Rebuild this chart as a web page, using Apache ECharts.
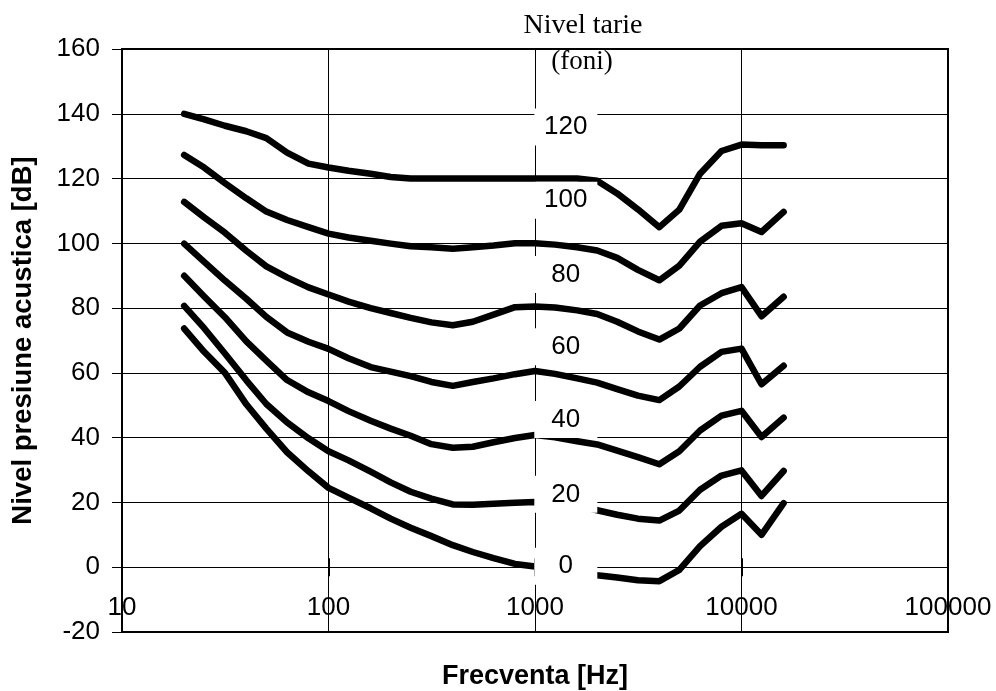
<!DOCTYPE html>
<html>
<head>
<meta charset="utf-8">
<script src="https://cdn.jsdelivr.net/npm/echarts@6/dist/echarts.min.js"></script>
<style>html,body{margin:0;padding:0;background:#fff}#c{width:996px;height:691px}</style>
</head>
<body>
<div id="c"></div>
<script>
// Frequencies (Hz)
const freqs = [20,25,31.5,40,50,63,80,100,125,160,200,250,315,400,500,630,800,1000,1250,1600,2000,2500,3150,4000,5000,6300,8000,10000,12500,16000];
// Sound pressure level (dB) for each loudness contour (phon)
const phon0   = [73.7,66.5,60,50.3,42.8,35.5,29.6,24.5,21.5,18.2,15,12.2,9.6,6.8,4.7,2.8,1.0,0.2,-0.5,-1.5,-2.5,-3.2,-4,-4.3,-0.8,6.5,12.5,16.5,10,19.8];
const phon20  = [80.7,73.8,66,57.7,50.4,44.7,39.8,35.8,33,29.5,26.2,23.3,21.2,19.4,19.3,19.6,19.9,20.1,20,19,17.6,16.2,15,14.4,17.5,23.9,28.3,29.9,22,29.7];
const phon40  = [90,83.6,77.2,69.7,63.8,57.8,54,51.3,48.2,45.2,42.8,40.6,38,36.9,37.2,38.6,39.9,40.8,40.1,38.9,37.9,36,34,31.8,35.8,42.2,46.8,48.3,40.2,46.2];
const phon60  = [99.9,94.3,88.5,82.9,77.3,72.5,69.6,67.4,64.5,61.8,60.4,59,57.2,56,57.2,58.3,59.6,60.6,59.7,58.3,57,55,53,51.6,55.8,61.9,66.5,67.5,56.5,62.2];
const phon80  = [112.8,108,103.3,97.7,92.9,89.5,86.4,84.2,82,80,78.5,77,75.6,74.7,75.8,78,80.3,80.5,80.2,79.3,78.2,75.8,72.8,70.3,73.7,80.8,84.6,86.5,77.5,83.5];
const phon100 = [127.3,123.4,118.6,113.9,109.8,107.2,105,103,101.8,100.8,99.9,99.1,98.8,98.3,98.8,99.3,100,100,99.6,98.8,97.8,95.5,91.8,88.6,93.1,100.5,105.4,106.2,103.5,109.7];
const phon120 = [140,138.3,136.3,134.6,132.5,128,124.6,123.4,122.4,121.5,120.5,120,120,120,120,120,120,120,120,120,119.3,115.4,110.5,105,110.4,121.5,128.5,130.5,130.3,130.3];
const curves = [phon0, phon20, phon40, phon60, phon80, phon100, phon120];
// Contour labels (phon) and where they sit on the chart (data coordinates)
const labelTexts = ['0','20','40','60','80','100','120'];
const labelLevels = [0.3,22.5,45.6,68.1,90.4,113.3,135.9];
const labelFreq = 1410;
// Axis ticks
const yTicks = {min:-20, max:160, step:20};
const xTicks = {min:10, max:100000};

const FONT = '"Liberation Sans", Arial, sans-serif';
const SERIF = '"Liberation Serif", "Times New Roman", serif';

const W = 996, H = 691;
const grid = {left:122, top:49, right:48, bottom:59};
const plotH = H - grid.top - grid.bottom;
// x axis is drawn along the 0 dB line: shift it up from the bottom edge
const zeroOffset = -plotH * (0 - yTicks.min) / (yTicks.max - yTicks.min);

const chart = echarts.init(document.getElementById('c'), null, {renderer:'canvas'});

const series = curves.map((vals, i) => ({
  type:'line', name: labelTexts[i] + ' foni',
  xAxisIndex:0, yAxisIndex:0,
  data: freqs.map((f, k) => [f, vals[k]]),
  showSymbol:false, symbol:'none', smooth:false, silent:true,
  lineStyle:{color:'#000', width:6.5, cap:'round', join:'round'},
  z:3
}));
series.push({
  type:'scatter', xAxisIndex:0, yAxisIndex:0, silent:true,
  symbol:'rect', symbolSize:[63,37],
  itemStyle:{color:'#fff', opacity:1},
  data: labelLevels.map((v, i) => ({value:[labelFreq, v], name:labelTexts[i]})),
  label:{show:true, position:'inside', formatter:p => p.name, color:'#000', fontSize:26, fontFamily:FONT},
  z:5
});

const axisTextStyle = {color:'#000', fontSize:26, fontFamily:FONT};

chart.setOption({
  animation:false,
  backgroundColor:'#fff',
  grid:{...grid, show:true, borderColor:'#000', borderWidth:2,
        backgroundColor:'transparent', containLabel:false, outerBoundsMode:'none'},
  xAxis:[{
    type:'log', logBase:10, min:xTicks.min, max:xTicks.max, position:'bottom', offset:zeroOffset,
    axisLine:{show:true, onZero:false, lineStyle:{color:'#000', width:1}},
    axisTick:{show:true, inside:false, length:9, lineStyle:{color:'#000', width:2}},
    minorTick:{show:false},
    axisLabel:{...axisTextStyle, margin:28, formatter:v => String(Math.round(v))},
    splitLine:{show:true, lineStyle:{color:'#000', width:1}},
    name:'Frecventa [Hz]', nameLocation:'middle', nameGap:96,
    nameTextStyle:{color:'#000', fontSize:27, fontWeight:'bold', fontFamily:FONT}
  },{
    type:'log', logBase:10, min:xTicks.min, max:xTicks.max, position:'bottom', offset:zeroOffset,
    axisLine:{show:false, onZero:false},
    axisTick:{show:true, inside:true, length:9, lineStyle:{color:'#000', width:2}},
    axisLabel:{show:false}, splitLine:{show:false}
  }],
  yAxis:[{
    type:'value', min:yTicks.min, max:yTicks.max, interval:yTicks.step,
    axisLine:{show:true, onZero:false, lineStyle:{color:'#000', width:2}},
    axisTick:{show:true, inside:false, length:10, lineStyle:{color:'#000', width:1}},
    axisLabel:{...axisTextStyle, margin:22},
    splitLine:{show:true, lineStyle:{color:'#000', width:1}},
    name:'Nivel presiune acustica [dB]', nameLocation:'middle', nameGap:85,
    nameTextStyle:{color:'#000', fontSize:27.5, fontWeight:'bold', fontFamily:FONT}
  },{
    type:'value', min:yTicks.min, max:yTicks.max, interval:yTicks.step, position:'left',
    axisLine:{show:false, onZero:false},
    axisTick:{show:true, inside:true, length:8, lineStyle:{color:'#000', width:1}},
    axisLabel:{show:false}, splitLine:{show:false}
  }],
  graphic:[
    {type:'text', x:583, y:26, style:{text:'Nivel tarie', fill:'#000', font:'28px ' + SERIF, textAlign:'center', textVerticalAlign:'middle'}},
    {type:'text', x:582, y:62, style:{text:'(foni)', fill:'#000', font:'27px ' + SERIF, textAlign:'center', textVerticalAlign:'middle'}}
  ],
  series: series
});
</script>
</body>
</html>
